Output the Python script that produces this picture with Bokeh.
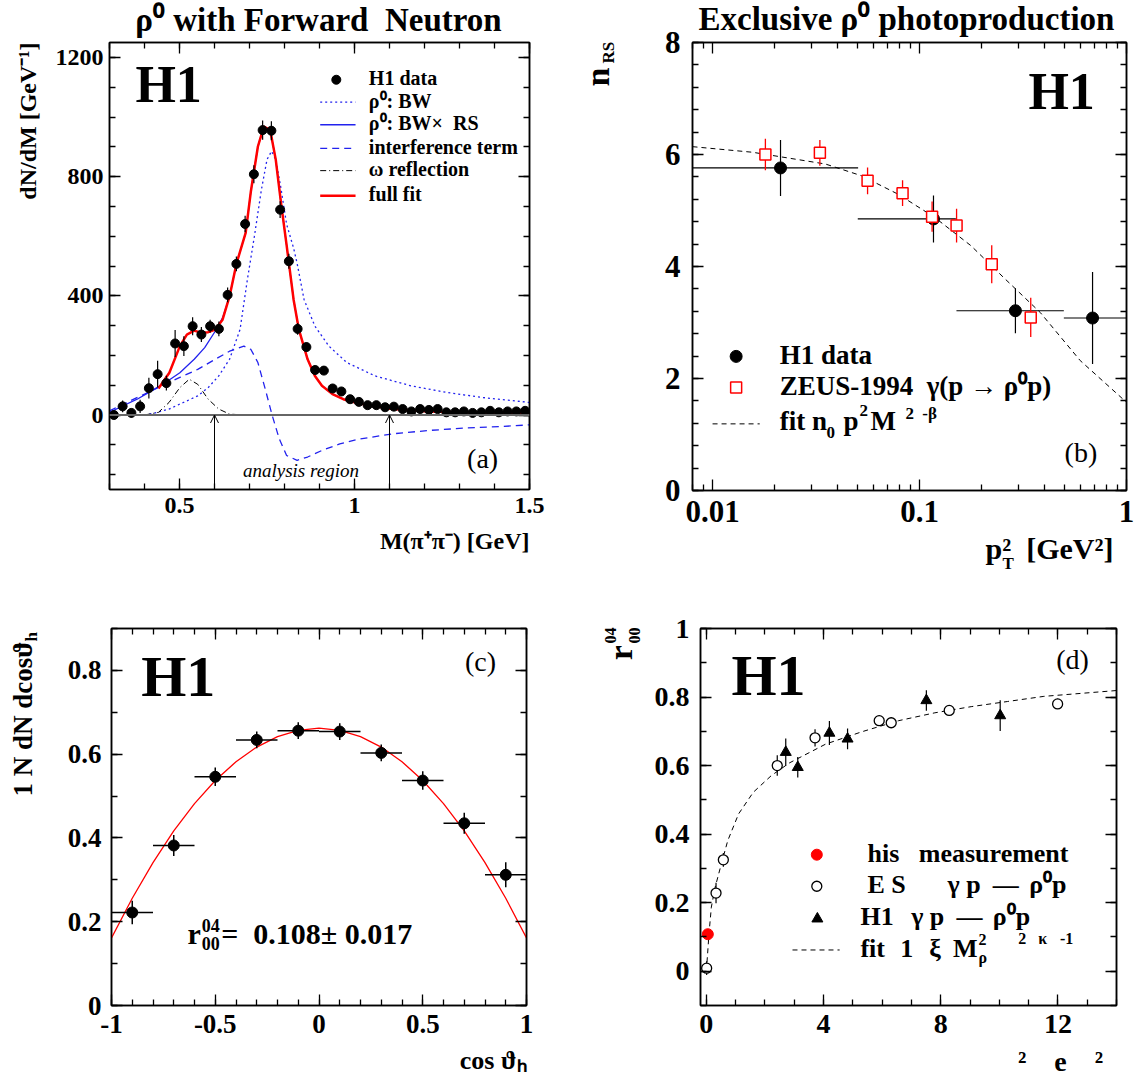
import re
import numpy as np
from bokeh.plotting import figure
from bokeh.layouts import column, row
from bokeh.models import (Range1d, FixedTicker, LinearAxis, LogAxis,
                          CustomJSTickFormatter, Label, Span, Arrow, OpenHead)
from bokeh.embed import file_html
from bokeh.resources import INLINE

SERIF = "Liberation Serif"
BLUE = "#2222ee"
RED = "#ff0000"

# ---------------- panel (a): M(pi pi) spectrum ----------------
mass_bins = [0.3125, 0.3375, 0.3625, 0.3875, 0.4125, 0.4375, 0.4625, 0.4875,
             0.5125, 0.5375, 0.5625, 0.5875, 0.6125, 0.6375, 0.6625, 0.6875,
             0.7125, 0.7375, 0.7625, 0.7875, 0.8125, 0.8375, 0.8625, 0.8875,
             0.9125, 0.9375, 0.9625, 0.9875, 1.0125, 1.0375, 1.0625, 1.0875,
             1.1125, 1.1375, 1.1625, 1.1875, 1.2125, 1.2375, 1.2625, 1.2875,
             1.3125, 1.3375, 1.3625, 1.3875, 1.4125, 1.4375, 1.4625, 1.4875]
mass_counts = [0, 29, 7, 29, 90, 137, 107, 240, 231, 298, 270, 298, 289, 403, 507, 641,
               808, 956, 954, 689, 516, 289, 228, 151, 149, 89, 79, 53, 44, 33, 33, 26,
               28, 20, 12, 20, 17, 20, 9, 9, 12, 7, 9, 14, 9, 12, 12, 14]
mass_err = [10, 20, 15, 22, 35, 45, 25, 45, 33, 30, 25, 22, 25, 25, 25, 28,
            30, 32, 32, 28, 25, 20, 15, 14, 13, 12, 11, 10, 9, 9, 9, 8,
            8, 8, 8, 8, 8, 8, 7, 7, 7, 7, 7, 7, 7, 7, 7, 7]

bw_m = [0.40, 0.43, 0.47, 0.511, 0.552, 0.582, 0.612, 0.643, 0.673, 0.694, 0.714, 0.734,
        0.75, 0.763, 0.775, 0.79, 0.806, 0.826, 0.836, 0.856, 0.887, 0.927, 0.978,
        1.059, 1.161, 1.262, 1.364, 1.5]
bw_v = [0, 7, 20, 42, 64, 92, 131, 187, 287, 455, 600, 756,
        857, 885, 857, 760, 640, 560, 509, 387, 298, 231, 176,
        131, 98, 76, 59, 42]

rs_m = [0.30, 0.339, 0.379, 0.42, 0.46, 0.501, 0.542, 0.572, 0.602, 0.623, 0.643, 0.663,
        0.689, 0.704, 0.724, 0.741, 0.759, 0.775, 0.79, 0.806, 0.826, 0.841, 0.866, 0.887,
        0.907, 0.937, 0.968, 1.008, 1.059, 1.109, 1.211, 1.313, 1.5]
rs_v = [9, 31, 53, 81, 109, 142, 187, 226, 281, 326, 398, 509,
        611, 751, 901, 968, 957, 857, 712, 570, 387, 287, 187, 131,
        98, 70, 53, 40, 29, 20, 12, 9, 7]

int_m = [0.30, 0.349, 0.40, 0.45, 0.501, 0.552, 0.602, 0.643, 0.684, 0.704, 0.724, 0.745,
         0.765, 0.785, 0.806, 0.836, 0.866, 0.907, 0.958, 1.008, 1.11, 1.211, 1.313, 1.414, 1.5]
int_v = [14, 42, 70, 98, 126, 153, 187, 214, 231, 220, 176, 87,
         -2, -80, -136, -152, -141, -119, -97, -82, -63, -52, -44, -39, -33]

omega_m = [0.40, 0.44, 0.47, 0.501, 0.528, 0.552, 0.582, 0.612, 0.643, 0.684]
omega_v = [0, 9, 42, 92, 120, 103, 53, 20, 3, 0]

fit_m = [0.44, 0.471, 0.501, 0.521, 0.542, 0.562, 0.582, 0.602, 0.623, 0.643, 0.663,
         0.689, 0.704, 0.724, 0.741, 0.759, 0.775, 0.79, 0.806, 0.826, 0.841, 0.866,
         0.887, 0.907, 0.937, 0.968, 1.008, 1.059, 1.109, 1.211, 1.313, 1.5]
fit_v = [89, 142, 231, 270, 283, 276, 278, 287, 320, 398, 509,
         611, 751, 901, 968, 957, 857, 712, 570, 387, 287, 187,
         131, 98, 70, 53, 40, 29, 20, 12, 9, 7]

analysis_region = [0.6, 1.1]

# ---------------- panel (b): n_RS vs pT^2 ----------------
h1_pt2 = [0.0213, 0.1168, 0.2906, 0.6855]
h1_pt2_lo = [0.008, 0.0503, 0.1508, 0.498]
h1_pt2_hi = [0.0505, 0.1498, 0.498, 1.0]
h1_nrs = [5.76, 4.85, 3.21, 3.08]
h1_nrs_err = [0.50, 0.42, 0.40, 0.82]

zeus_pt2 = [0.018, 0.033, 0.0561, 0.0828, 0.115, 0.151, 0.2233, 0.3446]
zeus_nrs = [6.00, 6.03, 5.53, 5.31, 4.89, 4.73, 4.04, 3.09]
zeus_nrs_err = [0.28, 0.23, 0.24, 0.23, 0.27, 0.30, 0.34, 0.35]

nfit_pt2 = [0.008, 0.0156, 0.0351, 0.0525, 0.0789, 0.118, 0.1774, 0.2553, 0.3828, 0.5975, 1.0]
nfit_nrs = [6.14, 6.04, 5.83, 5.62, 5.29, 4.88, 4.37, 3.80, 3.18, 2.32, 1.575]

# ---------------- panel (c): cos theta_h ----------------
cth_bins = [-0.9, -0.7, -0.5, -0.3, -0.1, 0.1, 0.3, 0.5, 0.7, 0.9]
cth_vals = [0.222, 0.382, 0.546, 0.634, 0.656, 0.654, 0.603, 0.537, 0.435, 0.312]
cth_err = [0.028, 0.025, 0.022, 0.020, 0.020, 0.020, 0.020, 0.022, 0.025, 0.030]
cth_halfwidth = [0.1] * 10
cth_fit_x = [-1.0, -0.9, -0.8, -0.7, -0.6, -0.5, -0.4, -0.3, -0.2, -0.1, 0.0,
             0.1, 0.2, 0.3, 0.4, 0.5, 0.6, 0.7, 0.8, 0.9, 1.0]
cth_fit_y = [0.161, 0.256, 0.341, 0.417, 0.482, 0.537, 0.582, 0.617, 0.642, 0.657, 0.662,
             0.657, 0.642, 0.617, 0.582, 0.537, 0.482, 0.417, 0.341, 0.256, 0.161]

# ---------------- panel (d): r04_00 vs Q2 ----------------
this_q2 = [0.05]
this_r04 = [0.108]
zeus_q2 = [0.01, 0.33, 0.58, 2.42, 3.71, 5.9, 6.31, 8.29, 11.99]
zeus_r04 = [0.009, 0.228, 0.325, 0.600, 0.681, 0.731, 0.725, 0.761, 0.780]
zeus_r04_err = [0.02, 0.03, 0.02, 0.03, 0.025, 0.015, 0.015, 0.015, 0.015]
h1_q2 = [2.71, 3.12, 4.2, 4.82, 7.51, 10.03]
h1_r04 = [0.639, 0.595, 0.695, 0.678, 0.790, 0.746]
h1_r04_err = [0.04, 0.03, 0.035, 0.03, 0.03, 0.045]
rfit_q2 = [0.0, 0.09, 0.17, 0.3, 0.48, 0.73, 1.1, 1.6, 2.22, 2.84, 4.08, 5.32,
           6.56, 7.8, 9.04, 10.28, 11.52, 14.0]
rfit_r04 = [0.0, 0.109, 0.187, 0.245, 0.303, 0.381, 0.459, 0.522, 0.571, 0.608, 0.663, 0.699,
            0.731, 0.754, 0.772, 0.787, 0.802, 0.819]


# ---------------- helpers ----------------
def style_axis(ax, ticker, size, standoff, labels=True):
    ax.ticker = ticker
    ax.axis_line_width = 1.5
    ax.axis_line_color = "black"
    ax.major_tick_in = 11
    ax.major_tick_out = 0
    ax.minor_tick_in = 6
    ax.minor_tick_out = 0
    ax.major_tick_line_width = 1.3
    ax.minor_tick_line_width = 1.3
    ax.major_tick_line_color = "black"
    ax.minor_tick_line_color = "black"
    ax.major_label_text_font = SERIF
    ax.major_label_text_font_style = "bold"
    ax.major_label_text_color = "black"
    if labels:
        ax.major_label_text_font_size = f"{size}px"
        ax.major_label_standoff = standoff
        ax.formatter = CustomJSTickFormatter(code="return String(Math.round(tick*1000)/1000);")
    else:
        ax.major_label_text_font_size = "0px"
        ax.major_label_standoff = 0
        ax.formatter = CustomJSTickFormatter(code="return '';")


def make_fig(xr, yr, fw, fh, bl, br, bt, bb, xt, yt, size, xstand, ystand, log=False):
    p = figure(x_range=Range1d(*xr), y_range=Range1d(*yr),
               frame_width=fw, frame_height=fh,
               min_border_left=bl, min_border_right=br,
               min_border_top=bt, min_border_bottom=bb,
               x_axis_type="log" if log else "linear",
               toolbar_location=None, output_backend="svg")
    p.grid.visible = False
    p.outline_line_color = "black"
    p.outline_line_width = 1.5
    p.background_fill_color = "white"
    p.border_fill_color = "white"
    for ax in p.below:
        style_axis(ax, xt, size, xstand)
    for ax in p.left:
        style_axis(ax, yt, size, ystand)
    top = LogAxis() if log else LinearAxis()
    style_axis(top, xt, size, 0, labels=False)
    p.add_layout(top, "above")
    right = LinearAxis()
    style_axis(right, yt, size, 0, labels=False)
    p.add_layout(right, "right")
    return p


def lab(p, x, y, text, size, style="bold", align="left", baseline="alphabetic",
        angle=0.0, color="black", side=None):
    # keep runs of spaces (SVG would collapse them)
    text = re.sub(r" {2,}", lambda m: "\u00a0" * len(m.group()), text)
    xo, yo = 0.0, 0.0
    if baseline == "alphabetic":
        if angle == 0.0:
            yo = 0.4 * size
        else:
            xo = -0.4 * size
    elif angle == 0.0:
        yo = 0.1 * size
    l = Label(x=x, y=y, text=text, text_font=SERIF, text_font_size=f"{size}px",
              text_font_style=style, text_align=align, text_baseline=baseline,
              angle=angle, text_color=color, x_offset=xo, y_offset=yo)
    if side is None:
        p.add_layout(l)
    else:
        p.add_layout(l, side)


VERT = np.pi / 2

# ================= panel (a) =================
xt_a = FixedTicker(ticks=[0.5, 1.0, 1.5], minor_ticks=list(np.round(np.arange(0.3, 1.51, 0.1), 3)))
yt_a = FixedTicker(ticks=[0, 400, 800, 1200], minor_ticks=list(np.arange(-200, 1250, 100)))
pa = make_fig((0.3, 1.5), (-250, 1250), 420, 447, 109, 50, 40, 118, xt_a, yt_a, 24, 8, 6)

pa.add_layout(Span(location=0, dimension="width", line_color="#666666", line_width=2))
pa.line(bw_m, bw_v, line_color=BLUE, line_width=1.3, line_dash="2 3")
pa.line(int_m, int_v, line_color=BLUE, line_width=1.3, line_dash="7 5")
pa.line(omega_m, omega_v, line_color="black", line_width=1.0, line_dash="6 3 1 3")
pa.line(rs_m, rs_v, line_color=BLUE, line_width=1.3)
pa.line(fit_m, fit_v, line_color=RED, line_width=2.5)
mlo = [c - e for c, e in zip(mass_counts, mass_err)]
mhi = [c + e for c, e in zip(mass_counts, mass_err)]
pa.segment(mass_bins, mlo, mass_bins, mhi, line_color="black", line_width=1.2)
pa.scatter(mass_bins, mass_counts, size=9, color="black")
for xa in analysis_region:
    pa.add_layout(Arrow(end=OpenHead(size=8, line_width=1, line_color="black"),
                        x_start=xa, y_start=-250, x_end=xa, y_end=0,
                        line_color="black", line_width=1))
lab(pa, 0.847, -193, "analysis region", 19, style="italic", align="center", baseline="middle")
lab(pa, 1.366, -154, "(a)", 28, style="normal", align="center", baseline="middle")
lab(pa, 0.374, 1038, "H1", 52)
lab(pa, 0.897, 1280, "ρ⁰ with Forward  Neutron", 33, align="center", side="above")
lab(pa, 0.0943, 1250, "dN/dM [GeV⁻¹]", 24, align="right", angle=VERT, side="left")
lab(pa, 1.5, -455, "M(π⁺π⁻) [GeV]", 24, align="right", side="below")

# legend (a)
leg_x0, leg_x1, leg_xm, leg_xt = 0.902, 1.003, 0.948, 1.041
rows_a = [1125, 1050, 974, 895, 820, 736]
pa.scatter([leg_xm], [rows_a[0]], size=9, color="black")
pa.line([leg_x0, leg_x1], [rows_a[1]] * 2, line_color=BLUE, line_width=1.3, line_dash="2 3")
pa.line([leg_x0, leg_x1], [rows_a[2]] * 2, line_color=BLUE, line_width=1.3)
pa.line([leg_x0, leg_x1], [rows_a[3]] * 2, line_color=BLUE, line_width=1.3, line_dash="7 5")
pa.line([leg_x0, leg_x1], [rows_a[4]] * 2, line_color="black", line_width=1.0, line_dash="6 3 1 3")
pa.line([leg_x0, leg_x1], [rows_a[5]] * 2, line_color=RED, line_width=2.5)
leg_texts_a = ["H1 data", "ρ⁰: BW", "ρ⁰: BW×  RS", "interference term", "ω reflection", "full fit"]
for t, yy in zip(leg_texts_a, rows_a):
    lab(pa, leg_xt, yy - 22, t, 20)

# ================= panel (b) =================
minor_b = [0.008, 0.009] + [k * 0.01 for k in range(2, 10)] + [k * 0.1 for k in range(2, 10)]
xt_b = FixedTicker(ticks=[0.01, 0.1, 1.0], minor_ticks=minor_b)
yt_b = FixedTicker(ticks=[0, 2, 4, 6, 8], minor_ticks=list(np.round(np.arange(0, 8.01, 0.4), 2)))
pb = make_fig((0.008, 1.0), (0, 8), 434, 448, 113, 14, 42, 115, xt_b, yt_b, 31, 10, 12, log=True)

pb.line(nfit_pt2, nfit_nrs, line_color="black", line_width=1.0, line_dash="5 4")
pb.segment(h1_pt2_lo, h1_nrs, h1_pt2_hi, h1_nrs, line_color="black", line_width=1.2)
pb.segment(h1_pt2, [v - e for v, e in zip(h1_nrs, h1_nrs_err)],
           h1_pt2, [v + e for v, e in zip(h1_nrs, h1_nrs_err)], line_color="black", line_width=1.2)
pb.scatter(h1_pt2, h1_nrs, size=12, color="black")
pb.segment(zeus_pt2, [v - e for v, e in zip(zeus_nrs, zeus_nrs_err)],
           zeus_pt2, [v + e for v, e in zip(zeus_nrs, zeus_nrs_err)], line_color=RED, line_width=1.3)
pb.scatter(zeus_pt2, zeus_nrs, marker="square", size=11, fill_color="white",
           line_color=RED, line_width=1.5)
# legend (b)
pb.scatter([0.013], [2.395], size=12, color="black")
pb.scatter([0.013], [1.84], marker="square", size=11, fill_color="white", line_color=RED, line_width=1.5)
pb.line([0.01, 0.0169], [1.19, 1.19], line_color="black", line_width=1.0, line_dash="5 4")
lab(pb, 0.0211, 2.23, "H1 data", 27)
lab(pb, 0.0211, 1.68, "ZEUS-1994  γ(p → ρ⁰p)", 27)
lab(pb, 0.0211, 1.04, "fit n", 27)
lab(pb, 0.0355, 0.92, "0", 17)
lab(pb, 0.04295, 1.04, "p", 27)
lab(pb, 0.0513, 1.31, "2", 17)
lab(pb, 0.058, 1.04, "M", 27)
lab(pb, 0.0855, 1.26, "2", 17)
lab(pb, 0.1032, 1.26, "-β", 17)
lab(pb, 0.602, 0.624, "(b)", 28, style="normal", align="center", baseline="middle")
lab(pb, 0.703, 6.75, "H1", 52, align="right")
lab(pb, 0.0865, 8.19, "Exclusive ρ⁰ photoproduction", 33, align="center", side="above")
lab(pb, 0.00325, 7.214, "n", 34, angle=VERT, side="left")
lab(pb, 0.0034, 7.625, "RS", 17, angle=VERT, side="left")
lab(pb, 0.2083, -1.25, "p²  [GeV²]", 30, side="below")
lab(pb, 0.2516, -1.43, "T", 17, side="below")

# ================= panel (c) =================
xt_c = FixedTicker(ticks=[-1, -0.5, 0, 0.5, 1], minor_ticks=list(np.round(np.arange(-1, 1.01, 0.1), 2)))
yt_c = FixedTicker(ticks=[0, 0.2, 0.4, 0.6, 0.8], minor_ticks=list(np.round(np.arange(0, 0.91, 0.1), 2)))
pc = make_fig((-1, 1), (0, 0.9), 415, 377, 111, 40, 23, 76, xt_c, yt_c, 27, 9, 10)

pc.line(cth_fit_x, cth_fit_y, line_color=RED, line_width=1.3)
pc.segment([b - w for b, w in zip(cth_bins, cth_halfwidth)], cth_vals,
           [b + w for b, w in zip(cth_bins, cth_halfwidth)], cth_vals, line_color="black", line_width=1.5)
pc.segment(cth_bins, [v - e for v, e in zip(cth_vals, cth_err)],
           cth_bins, [v + e for v, e in zip(cth_vals, cth_err)], line_color="black", line_width=1.5)
pc.scatter(cth_bins, cth_vals, size=11, color="black")
lab(pc, -0.857, 0.731, "H1", 58)
lab(pc, 0.778, 0.815, "(c)", 28, style="normal", align="center", baseline="middle")
lab(pc, -0.634, 0.143, "r", 30)
lab(pc, -0.565, 0.173, "04", 18)
lab(pc, -0.565, 0.131, "00", 18)
lab(pc, -0.471, 0.143, "=  0.108± 0.017", 30)
lab(pc, -1.376, 0.869, "1 N dN dcosϑ", 27, align="right", angle=VERT, side="left")
lab(pc, -1.352, 0.869, "h", 17, angle=VERT, side="left")
lab(pc, 1.0, -0.155, "cos ϑₕ", 26, align="right", side="below")

# ================= panel (d) =================
xt_d = FixedTicker(ticks=[0, 4, 8, 12], minor_ticks=list(range(0, 15)))
yt_d = FixedTicker(ticks=[0, 0.2, 0.4, 0.6, 0.8, 1.0], minor_ticks=list(np.round(np.arange(-0.1, 1.01, 0.1), 2)))
pd_ = make_fig((-0.2, 14), (-0.1, 1.0), 416, 377, 134, 24, 23, 76, xt_d, yt_d, 28, 9, 11)

pd_.line(rfit_q2, rfit_r04, line_color="black", line_width=1.0, line_dash="5 4")
pd_.segment(zeus_q2, [v - e for v, e in zip(zeus_r04, zeus_r04_err)],
            zeus_q2, [v + e for v, e in zip(zeus_r04, zeus_r04_err)], line_color="black", line_width=1.2)
pd_.scatter(zeus_q2, zeus_r04, size=10, fill_color="white", line_color="black", line_width=1.3)
pd_.segment(h1_q2, [v - e for v, e in zip(h1_r04, h1_r04_err)],
            h1_q2, [v + e for v, e in zip(h1_r04, h1_r04_err)], line_color="black", line_width=1.2)
pd_.scatter(h1_q2, h1_r04, marker="triangle", size=11, color="black")
pd_.scatter(this_q2, this_r04, size=11, color=RED)
# legend (d)
pd_.scatter([3.77], [0.34], size=11, color=RED)
pd_.scatter([3.77], [0.248], size=10, fill_color="white", line_color="black", line_width=1.3)
pd_.scatter([3.79], [0.153], marker="triangle", size=11, color="black")
pd_.line([2.94, 4.55], [0.062, 0.062], line_color="black", line_width=1.0, line_dash="5 4")
lab(pd_, 5.5, 0.314, "his   measurement", 26)
lab(pd_, 5.5, 0.223, "E S", 26)
lab(pd_, 8.23, 0.223, "γ p", 26)
lab(pd_, 9.78, 0.223, "—", 26)
lab(pd_, 11.02, 0.223, "ρ⁰p", 26)
lab(pd_, 5.26, 0.128, "H1", 26)
lab(pd_, 6.99, 0.128, "γ p", 26)
lab(pd_, 8.54, 0.128, "—", 26)
lab(pd_, 9.78, 0.128, "ρ⁰p", 26)
lab(pd_, 5.26, 0.036, "fit", 26)
lab(pd_, 6.62, 0.036, "1", 26)
lab(pd_, 7.61, 0.036, "ξ", 26)
lab(pd_, 8.42, 0.036, "M", 26)
lab(pd_, 9.29, 0.075, "2", 16)
lab(pd_, 9.29, 0.021, "ρ", 16)
lab(pd_, 10.65, 0.078, "2", 16)
lab(pd_, 11.33, 0.078, "κ", 16)
lab(pd_, 12.07, 0.078, "-1", 16)
lab(pd_, 12.5, 0.902, "(d)", 28, style="normal", align="center", baseline="middle")
lab(pd_, 0.855, 0.795, "H1", 58)
lab(pd_, -2.45, 0.907, "r", 34, angle=VERT, side="left")
lab(pd_, -3.07, 0.956, "04", 16, angle=VERT, side="left")
lab(pd_, -2.25, 0.956, "00", 16, angle=VERT, side="left")
lab(pd_, 12.09, -0.2955, "²    e    ²", 28, align="center", side="below")

layout = column(row(pa, pb), row(pc, pd_))
open("out.html", "w").write(file_html(layout, INLINE))
